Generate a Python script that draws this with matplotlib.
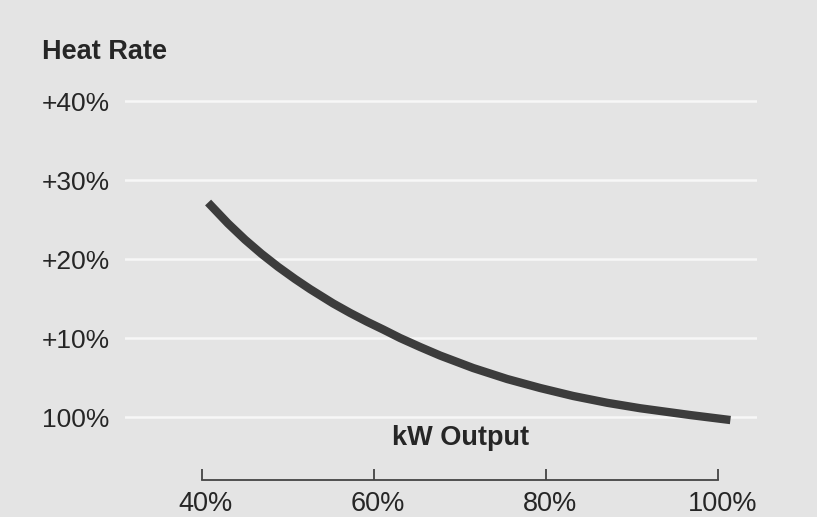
import matplotlib
matplotlib.use("Agg")
import matplotlib.pyplot as plt
import matplotlib.transforms as mtransforms

# Heat rate vs. kW output
load_pct = [40.75, 43.07, 45.05, 46.96, 48.88, 50.85, 52.60, 55.27, 57.24, 59.22, 61.08,
            63.05, 65.38, 67.70, 71.54, 75.49, 79.33, 83.16, 87.11, 90.95, 96.76, 101.41]
heat_rate = [27.15, 24.49, 22.44, 20.65, 19.01, 17.47, 16.19, 14.38, 13.18, 12.06, 11.08,
             10.0, 8.86, 7.78, 6.20, 4.81, 3.67, 2.66, 1.80, 1.11, 0.25, -0.38]

x_ticks = [40, 60, 80, 100]
x_labels = ["40%", "60%", "80%", "100%"]
y_ticks = [0, 10, 20, 30, 40]
y_labels = ["100%", "+10%", "+20%", "+30%", "+40%"]

W, H = 817, 517
bg = "#e4e4e4"
ink = "#262626"
plt.rcParams["font.family"] = ["Liberation Sans", "DejaVu Sans"]

fig = plt.figure(figsize=(W / 100, H / 100), dpi=100, facecolor=bg)
# axes spans the gridline extent (px 125..757) and from px 95 down to the x-axis line (px 480)
ax = fig.add_axes([125 / W, 1 - 480 / H, 632 / W, 385 / H], facecolor=bg)

ax.plot(load_pct, heat_rate, color="#3c3c3c", lw=6, solid_capstyle="butt",
        solid_joinstyle="round", zorder=3)

ax.set_xlim(31.1, 104.5)
ax.set_ylim(-7.97, 40.76)

ax.set_yticks(y_ticks)
ax.set_yticklabels(y_labels, ha="left")
ax.tick_params(axis="y", length=0, pad=59.8, labelsize=19, labelcolor=ink)
ax.yaxis.grid(True, color="#f7f7f7", lw=1.8)
ax.set_axisbelow(True)

ax.set_xticks(x_ticks)
ax.set_xticklabels(x_labels)
ax.tick_params(axis="x", direction="in", length=8, width=1.3, color="#444444",
               pad=8, labelsize=19.5, labelcolor=ink)
shift = mtransforms.ScaledTranslation(4 / 100, 0, fig.dpi_scale_trans)
for lab in ax.get_xticklabels():
    lab.set_transform(lab.get_transform() + shift)

for side in ["top", "right", "left"]:
    ax.spines[side].set_visible(False)
ax.spines["bottom"].set_bounds(40, 100)
ax.spines["bottom"].set_color("#444444")
ax.spines["bottom"].set_linewidth(1.3)

fig.text(42 / W, 1 - 52 / H, "Heat Rate", fontsize=19.5, fontweight="bold",
         color=ink, ha="left", va="center")
fig.text(461 / W, 1 - 438 / H, "kW Output", fontsize=19.5, fontweight="bold",
         color=ink, ha="center", va="center")

fig.savefig("out.png", dpi=100, facecolor=bg)
